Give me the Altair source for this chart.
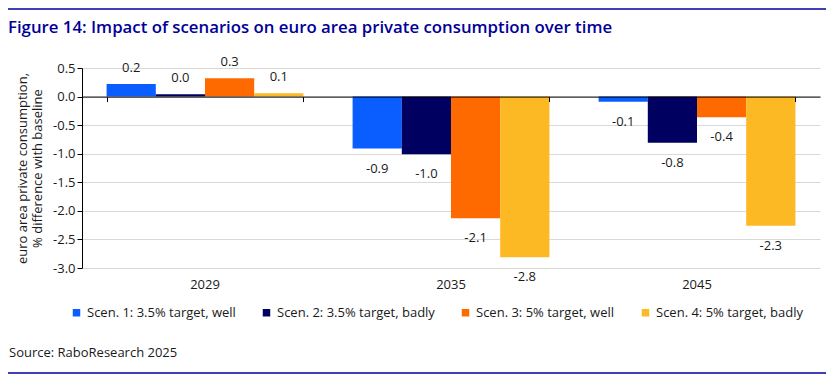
import altair as alt
import pandas as pd

years = ["2029", "2035", "2045"]
scenarios = [
    "Scen. 1: 3.5% target, well",
    "Scen. 2: 3.5% target, badly",
    "Scen. 3: 5% target, well",
    "Scen. 4: 5% target, badly",
]
scen1 = [0.22, -0.91, -0.09]
scen2 = [0.04, -1.01, -0.81]
scen3 = [0.32, -2.13, -0.36]
scen4 = [0.06, -2.81, -2.26]
colors = ["#0A5EFF", "#000060", "#FF6A00", "#FDB924"]
y_ticks = [0.5, 0.0, -0.5, -1.0, -1.5, -2.0, -2.5, -3.0]

title_text = "Figure 14: Impact of scenarios on euro area private consumption over time"
source_text = "Source: RaboResearch 2025"
y_title = ["euro area private consumption,", "% difference with baseline"]

rows = []
for s, vals in zip(scenarios, [scen1, scen2, scen3, scen4]):
    for yr, v in zip(years, vals):
        rows.append({"year": yr, "scenario": s, "value": v, "label": f"{v:.1f}"})
df = pd.DataFrame(rows)

FONT = "Open Sans"
W, H = 738, 200

x_enc = alt.X(
    "year:N",
    sort=years,
    scale=alt.Scale(paddingInner=0.2, paddingOuter=0.1),
    axis=alt.Axis(title=None, labelAngle=0, domain=False, ticks=False,
                  labelPadding=10, labelFontSize=13, labelColor="#1a1a1a",
                  grid=False, orient="bottom"),
)
xo_enc = alt.XOffset("scenario:N", sort=scenarios,
                     scale=alt.Scale(paddingInner=0, paddingOuter=0))
y_axis = alt.Axis(values=y_ticks, title=y_title,
                  labelExpr="(datum.value < 0 ? '-' : '') + format(abs(datum.value), '.1f')",
                  titleFontSize=13, titleFontWeight="normal", titleColor="#1a1a1a",
                  titlePadding=8, labelFontSize=13, labelColor="#1a1a1a",
                  labelPadding=2, labelOverlap=False,
                  tickSize=5, tickColor="black",
                  domainColor="black", grid=True, gridColor="#d9d9d9")
y_scale = alt.Scale(domain=[-3.0, 0.5], nice=False, zero=False)
y_enc = alt.Y("value:Q", scale=y_scale, axis=y_axis)

bars = alt.Chart(df).mark_bar().encode(
    x=x_enc,
    xOffset=xo_enc,
    y=y_enc,
    color=alt.Color(
        "scenario:N",
        scale=alt.Scale(domain=scenarios, range=colors),
        legend=alt.Legend(title=None, orient="none", legendX=-12, legendY=238,
                          direction="horizontal", symbolType="square",
                          symbolSize=56, symbolStrokeWidth=0, labelFontSize=13,
                          labelColor="#1a1a1a", columnPadding=24, labelOffset=4,
                          padding=0),
    ),
)

zero_axis = alt.Chart(df).mark_bar(opacity=0).encode(
    x=alt.X("year:N", sort=years,
            axis=alt.Axis(title=None, labels=False, orient="bottom",
                          offset=-(H - H * 0.5 / 3.5), domain=True,
                          domainColor="black", ticks=True, tickBand="extent",
                          tickSize=5, tickColor="black", grid=False, zindex=1)),
)

pos = df[df["value"] >= 0]
neg = df[df["value"] < 0]
x_plain = alt.X("year:N", sort=years,
                axis=alt.Axis(title=None, labels=False, ticks=False, domain=False,
                              grid=False, orient="bottom"))
lab_pos = alt.Chart(pos).mark_text(fontSize=13, color="#1a1a1a", baseline="middle", dy=-16).encode(
    x=x_plain, xOffset=xo_enc, y=y_enc, text="label:N",
)
lab_neg = alt.Chart(neg).mark_text(fontSize=13, color="#1a1a1a", baseline="middle", dy=20).encode(
    x=x_plain, xOffset=xo_enc, y=y_enc, text="label:N",
)

ann = pd.DataFrame({"t": [title_text]})
title_mark = alt.Chart(ann).mark_text(
    fontSize=16.8, fontWeight=600, color="#000099", align="left", baseline="middle"
).encode(text="t:N", x=alt.value(-74), y=alt.value(-40))

src = pd.DataFrame({"t": [source_text]})
source_mark = alt.Chart(src).mark_text(
    fontSize=13, color="#1a1a1a", align="left", baseline="middle"
).encode(text="t:N", x=alt.value(-73), y=alt.value(284.5))

top_rule = alt.Chart(ann).mark_rule(color="#000099", strokeWidth=1.5).encode(
    x=alt.value(-74), x2=alt.value(744), y=alt.value(-59))
bottom_rule = alt.Chart(ann).mark_rule(color="#000099", strokeWidth=1.5).encode(
    x=alt.value(-74), x2=alt.value(744), y=alt.value(305))

chart = alt.layer(
    bars, zero_axis, lab_pos, lab_neg, title_mark, source_mark, top_rule, bottom_rule
).resolve_axis(x="independent").properties(
    width=W, height=H,
    autosize=alt.AutoSizeParams(type="none"),
    padding={"left": 74, "top": 60, "right": 6, "bottom": 110},
).configure(font=FONT).configure_view(stroke=None)

chart.save("out.html", embed_options={"renderer": "svg", "actions": False})
